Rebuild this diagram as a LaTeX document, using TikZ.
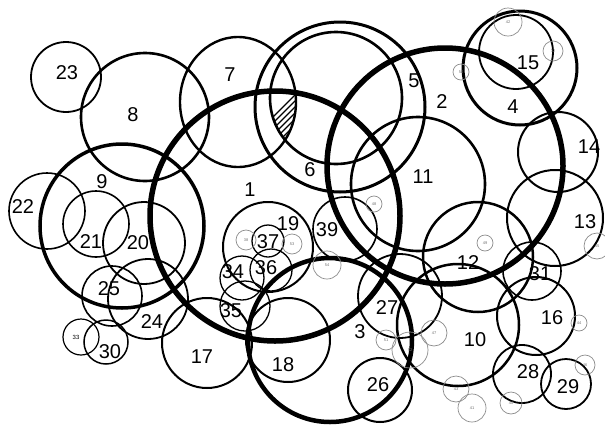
\documentclass[tikz,border=0pt]{standalone}
\usepackage{fontspec}
\setmainfont{Liberation Sans}
\usetikzlibrary{shapes.geometric}
\tikzset{
  ring/.style={circle, draw=black, inner sep=0pt, outer sep=0pt},
  oval/.style={ellipse, draw=black, inner sep=0pt, outer sep=0pt},
  tinyring/.style={circle, draw=black!45, line width=0.7pt, inner sep=0pt, outer sep=0pt},
  lab/.style={font=\fontsize{20}{20}\selectfont, inner sep=0pt},
  smalllab/.style={font=\fontsize{6}{6}\selectfont, inner sep=0pt},
  tinylab/.style={font=\fontsize{4}{4}\selectfont, text=black!55, inner sep=0pt},
  hatchline/.style={line width=1.3pt}
}
\newcommand{\Cir}[5]{\node[ring, minimum size=2*#4pt, line width=#5pt] (#1) at (#2,#3) {};}
\newcommand{\Tin}[5]{\node[tinyring, minimum size=2*#4pt] (#1) at (#2,#3) {}; \node[tinylab] (#1l) at (#2,#3) {#5};}
\begin{document}
\begin{tikzpicture}[x=1pt,y=-1pt]
\useasboundingbox (0,0) rectangle (605,426);
\fill[white] (0,0) rectangle (605,426);
% hatched lens
\begin{scope}
  \clip (275,216) circle [radius=125pt];
  \clip (238,102) ellipse [x radius=58pt, y radius=65pt];
  \clip (336,98) circle [radius=66pt];
  \foreach \i in {0,...,22} \draw[hatchline] (230+\i*6,160) -- ++(80,-80);
\end{scope}
% big circles
\Cir{c1}{275}{216}{125}{5.5}
\Cir{c2}{445}{166}{118}{5.5}
\Cir{c3}{330}{340}{82}{4.5}
\Cir{c4}{520}{68}{57}{3}
\Cir{c5}{340}{107}{85}{3}
\Cir{c6}{336}{98}{66}{2.6}
\node[oval, minimum width=116pt, minimum height=130pt, line width=2.4pt] (c7) at (238,102) {};
\Cir{c8}{145}{117}{64}{2.6}
\Cir{c9}{122}{226}{82}{3.5}
\Cir{c10}{458}{325}{61}{2.5}
\Cir{c11}{418}{184}{67}{2.6}
\Cir{c12}{478}{257}{55}{2.5}
\Cir{c13}{555}{218}{48}{2}
\Cir{c14}{558}{152}{40}{2}
\Cir{c15}{516}{52}{37}{1.8}
\Cir{c16}{536}{316}{39}{2}
\Cir{c17}{207}{343}{45}{2}
\Cir{c18}{288}{340}{42}{2}
\Cir{c19}{268}{247}{45}{2}
\Cir{c20}{144}{243}{41}{1.8}
\Cir{c21}{96}{224}{33}{1.6}
\Cir{c22}{47}{211}{38}{1.6}
\Cir{c23}{66}{77}{35}{1.8}
\Cir{c24}{148}{299}{40}{1.8}
\Cir{c25}{112}{296}{30}{1.6}
\Cir{c26}{380}{390}{32}{2}
\Cir{c27}{400}{296}{42}{1.8}
\Cir{c28}{522}{374}{29}{1.8}
\Cir{c29}{566}{384}{25}{1.8}
\Cir{c30}{106}{342}{22}{1.5}
\Cir{c31}{532}{271}{29}{1.6}
\Cir{c33}{81}{337}{18}{1.2}
\Cir{c34}{242}{278}{22}{1.3}
\Cir{c35}{245}{306}{25}{1.3}
\Cir{c36}{271}{270}{21}{1.3}
\Cir{c37}{268}{241}{16}{1.3}
\Cir{c39}{345}{229}{32}{1.6}
% small grey circles
\Tin{g42}{508}{22}{14}{42}
\Tin{g32}{553}{51}{10}{32}
\Tin{g50}{461}{72}{8}{50}
\Tin{g48}{374}{204}{8}{48}
\Tin{g49}{485}{243}{8}{49}
\Tin{g45}{597}{246}{13}{45}
\Tin{g44}{579}{323}{8}{44}
\Tin{g46}{585}{365}{10}{46}
\Tin{g40}{511}{403}{11}{40}
\Tin{g41}{472}{408}{14}{41}
\Tin{g43}{456}{389}{13}{43}
\Tin{g47}{434}{333}{13}{47}
\Tin{g51}{386}{340}{10}{51}
\Tin{g52}{410}{350}{18}{52}
\Tin{g38}{246}{240}{10}{38}
\Tin{g53}{292}{244}{10}{53}
\Tin{g54}{327}{265}{14}{54}
% labels
\node[lab] (l1) at (250,190) {1};
\node[lab] (l2) at (442,102) {2};
\node[lab] (l3) at (360,332) {3};
\node[lab] (l4) at (513,107) {4};
\node[lab] (l5) at (414,81) {5};
\node[lab] (l6) at (310,170) {6};
\node[lab] (l7) at (230,75) {7};
\node[lab] (l8) at (133,115) {8};
\node[lab] (l9) at (102,182) {9};
\node[lab] (l10) at (475,340) {10};
\node[lab] (l11) at (423,177) {11};
\node[lab] (l12) at (468,263) {12};
\node[lab] (l13) at (585,222) {13};
\node[lab] (l14) at (589,147) {14};
\node[lab] (l15) at (528,63) {15};
\node[lab] (l16) at (552,318) {16};
\node[lab] (l17) at (202,357) {17};
\node[lab] (l18) at (283,365) {18};
\node[lab] (l19) at (288,224) {19};
\node[lab] (l20) at (138,243) {20};
\node[lab] (l21) at (91,242) {21};
\node[lab] (l22) at (23,207) {22};
\node[lab] (l23) at (67,73) {23};
\node[lab] (l24) at (152,322) {24};
\node[lab] (l25) at (109,289) {25};
\node[lab] (l26) at (378,385) {26};
\node[lab] (l27) at (387,308) {27};
\node[lab] (l28) at (528,372) {28};
\node[lab] (l29) at (568,387) {29};
\node[lab] (l30) at (110,352) {30};
\node[lab] (l31) at (540,274) {31};
\node[smalllab] (l33) at (76,337) {33};
\node[lab] (l34) at (233,272) {34};
\node[lab] (l35) at (231,311) {35};
\node[lab] (l36) at (266,268) {36};
\node[lab] (l37) at (268,242) {37};
\node[lab] (l39) at (327,230) {39};
\end{tikzpicture}
\end{document}
